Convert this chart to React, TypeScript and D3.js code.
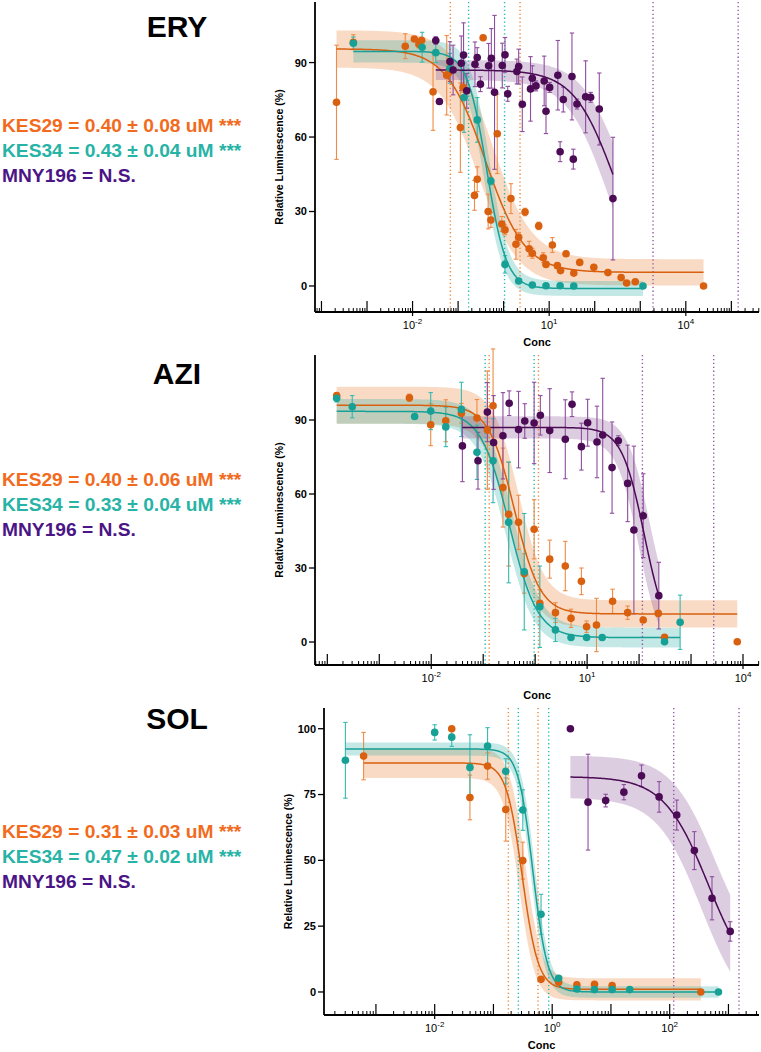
import React from "react";
import * as d3 from "d3";

// strain colours
const COLORS: Record<string, any> = {
  kes29: { pt: "#d8600f", err: "#ef8b45", band: "#e8731e", ci: "#f0883a", text: "#f26b1d" },
  kes34: { pt: "#17a096", err: "#35bab0", band: "#1aa79b", ci: "#22bcb0", text: "#27b3a6" },
  mny196: { pt: "#4b0b55", err: "#8e4d9e", band: "#7b3f8c", ci: "#9457a8", text: "#4b1585" },
};

// ---------- ERY (log10 conc, % luminescence, error) ----------
const eryK29Logc = [-3.67, -3.30, -2.16, -1.96, -1.86, -1.80, -1.55, -1.25, -1.20, -0.95, -0.89, -0.64, -0.58, -0.45, -0.34, -0.28, -0.14, -0.04, 0.03, 0.16, 0.27, 0.33, 0.47, 0.56, 0.63, 0.77, 0.87, 0.93, 1.07, 1.18, 1.25, 1.37, 1.54, 1.67, 1.98, 2.29, 2.58, 2.70, 2.89, 4.39];
const eryK29Val = [74.0, 98.2, 96.6, 99.5, 97.4, 99.0, 78.2, 84.9, 86.0, 63.8, 80.0, 36.5, 43.0, 100, 30.0, 26.6, 61.3, 25.0, 22.6, 35.2, 16.8, 19.6, 29.8, 15.0, 13.2, 24.2, 11.4, 8.7, 16.5, 8.2, 6.2, 13.0, 5.2, 9.5, 7.5, 5.4, 3.4, 1.2, 1.7, 0];
const eryK29Err = [23, 3, 5, 0, 1.5, 0, 15.5, 16, 0, 18, 2, 6, 5, 0, 7, 3, 16, 3, 2, 6, 6, 2, 1.5, 3, 2, 1.5, 2, 0, 3, 1, 0, 0, 0, 0, 0, 0, 0, 0, 0, 0];

const eryK34Logc = [-3.30, -1.79, -1.49, -1.18, -0.87, -0.58, -0.28, 0.03, 0.33, 0.63, 0.93, 1.24, 1.54, 3.06];
const eryK34Val = [97.8, 96.2, 94.0, 87.7, 75.9, 66.9, 42.3, 8.7, 2.0, 0.4, 0.1, 0.1, 0.0, 0.0];
const eryK34Err = [2.5, 6, 4, 6, 14, 9, 1.5, 3.5, 1, 0, 0, 0, 0, 0];

const eryMnyLogc = [-1.49, -1.41, -1.18, -1.11, -0.93, -0.88, -0.81, -0.63, -0.58, -0.51, -0.33, -0.27, -0.20, -0.03, 0.03, 0.09, 0.29, 0.33, 0.41, 0.59, 0.63, 0.71, 0.89, 0.93, 1.01, 1.19, 1.24, 1.31, 1.50, 1.53, 1.61, 1.80, 1.91, 2.10, 2.40];
const eryMnyVal = [98.9, 74.3, 90.4, 87.0, 89.7, 93.0, 78.6, 89.3, 92.0, 81.3, 88.7, 91.7, 78.0, 88.8, 93.1, 77.4, 86.4, 88.4, 73.2, 79.4, 83.7, 80.6, 82.6, 70.4, 80.0, 84.9, 54.1, 75.1, 84.4, 51.1, 73.3, 76.2, 76.0, 71.3, 35.2];
const eryMnyErr = [1.5, 1, 8, 10, 11, 13, 7, 9, 4, 3, 9, 12, 31, 9, 7, 3, 5, 7, 11, 13, 5, 2, 10, 9, 2, 14, 4, 5, 17.5, 4, 2, 14.5, 2, 14.5, 24.7];

// ---------- AZI ----------
const aziK29Logc = [-3.82, -2.42, -2.01, -1.72, -1.42, -1.12, -0.92, -0.81, -0.62, -0.51, -0.32, -0.21, -0.02, 0.09, 0.28, 0.39, 0.58, 0.69, 0.89, 0.99, 1.18, 1.49, 1.78, 2.08, 2.37, 2.49, 3.89];
const aziK29Val = [99.9, 99.0, 88.1, 89.7, 92.7, 90.8, 85.9, 95.8, 62.6, 51.8, 48.5, 27.8, 45.7, 15.7, 33.6, 11.9, 30.8, 9.6, 24.6, 6.2, 6.9, 16.5, 11.9, 8.9, 11.6, 1.9, 0.1];
const aziK29Err = [1, 1.5, 8.5, 8.5, 4, 7.5, 24, 23, 16, 21, 11, 8, 12, 5.5, 7.7, 4, 10, 3.7, 5.4, 2.3, 10.8, 4.9, 2.7, 0, 0, 0, 0];

const aziK34Logc = [-3.82, -3.52, -2.32, -2.01, -1.72, -1.42, -1.12, -0.81, -0.51, -0.21, 0.09, 0.39, 0.69, 0.99, 1.29, 2.49, 2.79];
const aziK34Val = [98.8, 95.4, 91.4, 93.6, 87.2, 94.3, 76.9, 73.5, 48.5, 28.5, 14.3, 4.9, 1.8, 1.8, 1.8, 0.1, 8.0];
const aziK34Err = [1.5, 4.5, 0, 7.5, 8, 11, 11, 17, 24.5, 23.6, 16.5, 4.7, 0, 0, 1, 0, 11];

const aziMnyLogc = [-1.40, -1.10, -0.92, -0.80, -0.62, -0.50, -0.32, -0.20, -0.02, 0.10, 0.28, 0.58, 0.71, 0.89, 1.01, 1.19, 1.30, 1.48, 1.60, 1.78, 1.90, 2.08, 2.38];
const aziMnyVal = [79.5, 73.5, 93.2, 80.9, 83.6, 96.8, 86.1, 89.6, 88.8, 91.9, 85.7, 82.2, 96.4, 79.2, 88.9, 81.1, 83.9, 70.7, 81.6, 64.3, 45.4, 51.2, 18.8];
const aziMnyErr = [14.5, 11.5, 12, 19, 17.5, 5, 15.5, 7, 16.5, 8, 17, 16, 5, 9.5, 9.5, 14.5, 23, 18.5, 2, 15.5, 34, 17, 13.5];

// ---------- SOL ----------
const solK29Logc = [-3.21, -1.71, -1.40, -1.10, -0.79, -0.50, -0.19, 0.11, 0.42, 0.72, 1.02, 2.53];
const solK29Val = [89.6, 100, 73.9, 85.8, 69.3, 49.9, 4.8, 3.7, 2.7, 2.9, 2.4, 0];
const solK29Err = [9, 0, 8.5, 5, 12, 7, 0, 0, 0, 0, 0, 0];

const solK34Logc = [-3.52, -2.00, -1.71, -1.40, -1.10, -0.79, -0.50, -0.19, 0.11, 0.42, 0.72, 1.02, 1.32, 2.83];
const solK34Val = [88.0, 98.6, 96.8, 85.3, 93.4, 83.8, 69.1, 29.5, 5.2, 1.1, 0.9, 0.9, 0.9, 0];
const solK34Err = [14.4, 2.9, 3.5, 12.4, 7, 4.8, 7.7, 7.6, 0, 0, 0, 0, 0, 0];

const solMnyLogc = [0.31, 0.61, 0.91, 1.22, 1.52, 1.82, 2.12, 2.42, 2.72, 3.03];
const solMnyVal = [100, 72.1, 72.7, 75.9, 82.1, 74.1, 67.2, 53.7, 35.6, 23.0];
const solMnyErr = [0, 18.2, 2.4, 2.9, 4.1, 5.8, 5.7, 7.2, 8.2, 3.7];

// fit params: top, bottom, logIC50, hill, dTop, dBottom, dLogIC50, from, to
const eryFits = {
  kes29: [95.5, 5.5, -0.40, 1.0, 7.5, 5.3, 0.15, -3.67, 4.39],
  kes34: [94.5, -1, -0.37, 2.0, 4.5, 3, 0.06, -3.30, 3.06],
  mny196: [87, 0, 2.43, 0.97, 4, 8, 0.15, -1.49, 2.40],
};
const aziFits = {
  kes29: [96, 11.4, -0.40, 1.75, 7.5, 5.5, 0.08, -3.82, 3.89],
  kes34: [93.5, 1.8, -0.50, 1.6, 5, 4, 0.06, -3.82, 2.79],
  mny196: [87, 0, 2.1, 2.0, 4.5, 6, 0.1, -1.40, 2.38],
};
const solFits = {
  kes29: [87, 1, -0.51, 3.2, 5.7, 4.2, 0.05, -3.21, 2.53],
  kes34: [92.3, 0, -0.33, 3.5, 2.5, 2.2, 0.03, -3.52, 2.83],
  mny196: [81.8, 0, 2.655, 1.15, 8, 10, 0.12, 0.31, 3.03],
};

// IC50 confidence interval lines (log10 conc)
const eryCI = { kes29: [-1.17, 0.36], kes34: [-0.77, 0.02], mny196: [3.28, 5.15] };
const aziCI = { kes29: [-0.885, 0.064], kes34: [-0.962, -0.019], mny196: [2.064, 3.436] };
const solCI = { kes29: [-0.746, -0.241], kes34: [-0.576, -0.06], mny196: [2.068, 3.18] };

const eryLegend = ["KES29 = 0.40 ± 0.08 uM ***", "KES34 = 0.43 ± 0.04 uM ***", "MNY196 = N.S."];
const aziLegend = ["KES29 = 0.40 ± 0.06 uM ***", "KES34 = 0.33 ± 0.04 uM ***", "MNY196 = N.S."];
const solLegend = ["KES29 = 0.31 ± 0.03 uM ***", "KES34 = 0.47 ± 0.02 uM ***", "MNY196 = N.S."];

const FONT = "'Liberation Sans', Arial, Helvetica, sans-serif";
const ORDER = ["kes29", "kes34", "mny196"];

const panels = [
  {
    title: "ERY", titleY: 37, legendY: [132, 157, 182], legend: eryLegend,
    left: 315, right: 759, top: 2, bottom: 312,
    logDom: [-4.142, 5.607], yDom: [-10.48, 114.4], yTicks: [0, 30, 60, 90], labelDecades: [-2, 1, 4],
    data: {
      kes29: [eryK29Logc, eryK29Val, eryK29Err], kes34: [eryK34Logc, eryK34Val, eryK34Err], mny196: [eryMnyLogc, eryMnyVal, eryMnyErr],
    },
    fits: eryFits, ci: eryCI,
  },
  {
    title: "AZI", titleY: 384, legendY: [486, 511, 536], legend: aziLegend,
    left: 315, right: 759, top: 355, bottom: 665,
    logDom: [-4.237, 4.308], yDom: [-9.32, 116.35], yTicks: [0, 30, 60, 90], labelDecades: [-2, 1, 4],
    data: {
      kes29: [aziK29Logc, aziK29Val, aziK29Err], kes34: [aziK34Logc, aziK34Val, aziK34Err], mny196: [aziMnyLogc, aziMnyVal, aziMnyErr],
    },
    fits: aziFits, ci: aziCI,
  },
  {
    title: "SOL", titleY: 729, legendY: [838, 863, 888], legend: solLegend,
    left: 324, right: 759, top: 708, bottom: 1015,
    logDom: [-3.884, 3.52], yDom: [-8.75, 107.87], yTicks: [0, 25, 50, 75, 100], labelDecades: [-2, 0, 2],
    data: {
      kes29: [solK29Logc, solK29Val, solK29Err], kes34: [solK34Logc, solK34Val, solK34Err], mny196: [solMnyLogc, solMnyVal, solMnyErr],
    },
    fits: solFits, ci: solCI,
  },
];

const logistic = (top: number, bot: number, c: number, h: number, lx: number) =>
  bot + (top - bot) / (1 + Math.pow(10, (lx - c) * h));

function Panel({ p }: { p: any }) {
  const x = d3.scaleLog().domain([10 ** p.logDom[0], 10 ** p.logDom[1]]).range([p.left, p.right]);
  const y = d3.scaleLinear().domain(p.yDom).range([p.bottom, p.top]);

  const decades = d3.range(Math.ceil(p.logDom[0]), Math.floor(p.logDom[1]) + 1);
  const minors: number[] = [];
  d3.range(Math.floor(p.logDom[0]), Math.ceil(p.logDom[1]) + 1).forEach((k: number) => {
    for (let m = 2; m <= 9; m++) {
      const v = m * 10 ** k;
      if (Math.log10(v) > p.logDom[0] && Math.log10(v) < p.logDom[1]) minors.push(v);
    }
  });

  const line = d3.line<number[]>().x((d) => x(10 ** d[0])).y((d) => y(d[1]));
  const area = d3.area<number[]>().x((d) => x(10 ** d[0])).y0((d) => y(d[1])).y1((d) => y(d[2]));

  const curves = ORDER.map((k) => {
    const [top, bot, c, h, dT, dB, dC, from, to] = p.fits[k];
    const xs = d3.range(from, to, 0.02).concat([to]);
    const mid = xs.map((lx: number) => [lx, logistic(top, bot, c, h, lx)]);
    const band = xs.map((lx: number) => {
      const vals: number[] = [];
      for (const a of [-1, 1]) for (const b of [-1, 1]) for (const cc of [-1, 1])
        vals.push(logistic(top + a * dT, bot + b * dB, c + cc * dC, h, lx));
      return [lx, d3.min(vals) as number, d3.max(vals) as number];
    });
    return { k, mid, band };
  });

  const cy = (p.top + p.bottom) / 2;
  const cx = (p.left + p.right) / 2;

  return (
    <g fontFamily={FONT}>
      <text x={177} y={p.titleY} textAnchor="middle" fontSize={30} fontWeight="bold">{p.title}</text>
      {p.legend.map((t: string, i: number) => (
        <text key={t} x={2} y={p.legendY[i]} fontSize={19.2} fontWeight="bold" fill={COLORS[ORDER[i]].text}>{t}</text>
      ))}

      {/* confidence bands */}
      {curves.map((c) => (
        <path key={"b" + c.k} d={area(c.band) || ""} fill={COLORS[c.k].band} fillOpacity={0.26} />
      ))}

      {/* IC50 CI dotted lines */}
      {ORDER.map((k) =>
        p.ci[k].map((lc: number, i: number) => (
          <line key={k + i} x1={x(10 ** lc)} x2={x(10 ** lc)} y1={p.top} y2={p.bottom}
            stroke={COLORS[k].ci} strokeWidth={1.4} strokeDasharray="1.3,2.6" />
        ))
      )}

      {/* error bars */}
      {ORDER.map((k) => {
        const [lc, v, e] = p.data[k];
        return lc.map((l: number, i: number) =>
          e[i] > 0 ? (
            <g key={k + "e" + i} stroke={COLORS[k].err} strokeWidth={1.1}>
              <line x1={x(10 ** l)} x2={x(10 ** l)} y1={y(v[i] - e[i])} y2={y(v[i] + e[i])} />
              <line x1={x(10 ** l) - 2.2} x2={x(10 ** l) + 2.2} y1={y(v[i] - e[i])} y2={y(v[i] - e[i])} />
              <line x1={x(10 ** l) - 2.2} x2={x(10 ** l) + 2.2} y1={y(v[i] + e[i])} y2={y(v[i] + e[i])} />
            </g>
          ) : null
        );
      })}

      {/* fitted curves */}
      {curves.map((c) => (
        <path key={"l" + c.k} d={line(c.mid) || ""} fill="none" stroke={COLORS[c.k].pt} strokeWidth={1.5} />
      ))}

      {/* points */}
      {ORDER.map((k) => {
        const [lc, v] = p.data[k];
        return lc.map((l: number, i: number) => (
          <circle key={k + "p" + i} cx={x(10 ** l)} cy={y(v[i])} r={3.8} fill={COLORS[k].pt} />
        ));
      })}

      {/* y axis */}
      <line x1={p.left} x2={p.left} y1={p.top} y2={p.bottom} stroke="#000" strokeWidth={1.8} />
      {p.yTicks.map((t: number) => (
        <g key={"y" + t}>
          <line x1={p.left - 6} x2={p.left} y1={y(t)} y2={y(t)} stroke="#000" strokeWidth={1.3} />
          <text x={p.left - 8} y={y(t)} dy="0.36em" textAnchor="end" fontSize={11} fontWeight="bold">{t}</text>
        </g>
      ))}
      <text transform={`translate(${p.left - 32},${cy}) rotate(-90)`} textAnchor="middle" fontSize={10.5} fontWeight="bold">
        Relative Luminescence (%)
      </text>

      {/* x axis */}
      <line x1={p.left} x2={p.right} y1={p.bottom} y2={p.bottom} stroke="#000" strokeWidth={1.8} />
      {minors.map((v, i) => (
        <line key={"m" + i} x1={x(v)} x2={x(v)} y1={p.bottom} y2={p.bottom - 4} stroke="#000" strokeWidth={1} />
      ))}
      {decades.map((d: number) => (
        <line key={"d" + d} x1={x(10 ** d)} x2={x(10 ** d)} y1={p.labelDecades.includes(d) ? p.bottom + 4 : p.bottom}
          y2={p.bottom - 11} stroke="#000" strokeWidth={1.2} />
      ))}
      {p.labelDecades.map((d: number) => (
        <text key={"t" + d} x={x(10 ** d)} y={p.bottom + 17} textAnchor="middle" fontSize={11}>
          10<tspan dy={-5} fontSize={8}>{d}</tspan>
        </text>
      ))}
      <text x={cx} y={p.bottom + 34} textAnchor="middle" fontSize={11} fontWeight="bold">Conc</text>
    </g>
  );
}

export default function App() {
  return (
    <svg width={761} height={1052} style={{ position: "absolute", left: 0, top: 0, background: "#fff" }}>
      <rect width={761} height={1052} fill="#fff" />
      {panels.map((p) => (
        <Panel key={p.title} p={p} />
      ))}
    </svg>
  );
}
